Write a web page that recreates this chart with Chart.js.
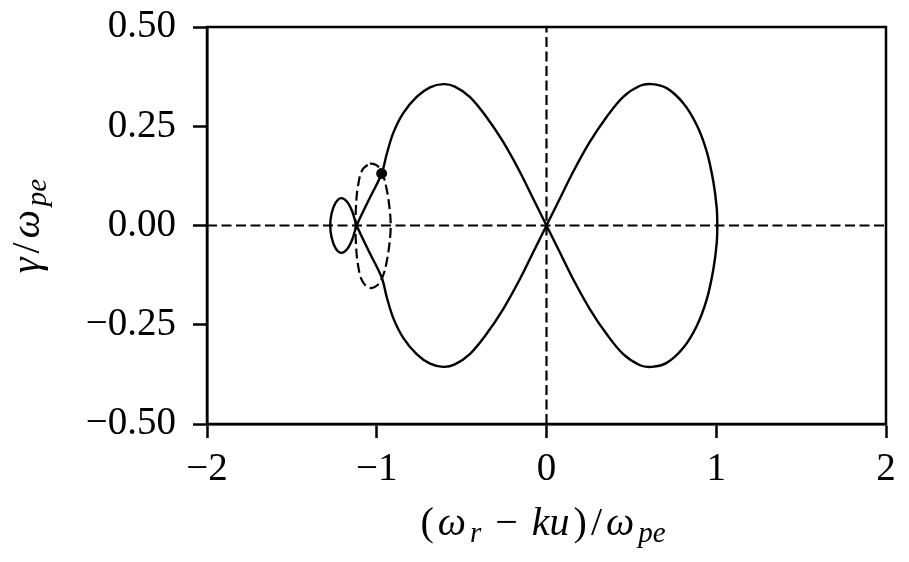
<!DOCTYPE html>
<html>
<head>
<meta charset="utf-8">
<script src="https://cdn.jsdelivr.net/npm/chart.js@4.4.1/dist/chart.umd.min.js"></script>
<style>
  html, body { margin: 0; padding: 0; background: #fff; }
</style>
</head>
<body>
<canvas id="chart" width="909" height="562"></canvas>
<script>
// solid curve, traced as one closed path:
// origin -> upper left lobe -> small loop -> lower left lobe -> origin -> right lobe -> origin
let curveX = [
  0, -0.079, -0.158, -0.256, -0.355, -0.452, -0.54, -0.608, -0.686, -0.765, -0.844, -0.902, -0.94, -0.971, -1.045,
  -1.118, -1.145, -1.175, -1.21, -1.243, -1.266, -1.274, -1.266, -1.243, -1.21, -1.175, -1.145, -1.118,
  -1.045, -0.971, -0.94, -0.902, -0.844, -0.765, -0.686, -0.608, -0.54, -0.452, -0.355, -0.256, -0.158, -0.079, 0,
  0.079, 0.158, 0.256, 0.355, 0.452, 0.551, 0.62, 0.708, 0.806, 0.885, 0.944, 0.983, 1.003, 1.006,
  1.003, 0.983, 0.944, 0.885, 0.806, 0.708, 0.62, 0.551, 0.452, 0.355, 0.256, 0.158, 0.079, 0
];
let curveY = [
  0, 0.068, 0.136, 0.211, 0.274, 0.324, 0.35, 0.356, 0.348, 0.324, 0.283, 0.234, 0.182, 0.131, 0.066,
  0, -0.036, -0.06, -0.069, -0.057, -0.03, 0, 0.03, 0.057, 0.069, 0.06, 0.036, 0,
  -0.066, -0.131, -0.182, -0.234, -0.283, -0.324, -0.348, -0.356, -0.35, -0.324, -0.274, -0.211, -0.136, -0.068, 0,
  0.068, 0.136, 0.211, 0.274, 0.324, 0.352, 0.356, 0.346, 0.308, 0.253, 0.186, 0.11, 0.043, 0,
  -0.043, -0.11, -0.186, -0.253, -0.308, -0.346, -0.356, -0.352, -0.324, -0.274, -0.211, -0.136, -0.068, 0
];

// dashed closed contour around the crossing
let contourX = [
  -1.04, -0.995, -0.962, -0.941, -0.925, -0.918, -0.925, -0.941, -0.962, -0.995,
  -1.04, -1.085, -1.112, -1.122, -1.125, -1.122, -1.112, -1.085, -1.04
];
let contourY = [
  0.157, 0.15, 0.125, 0.09, 0.045, 0, -0.045, -0.09, -0.125, -0.15,
  -0.157, -0.14, -0.095, -0.05, 0, 0.05, 0.095, 0.14, 0.157
];

// marked point
let markX = [-0.971];
let markY = [0.131];

// zero reference lines
let zeroLineX = [-2, 2];
let zeroLineY = [-0.5, 0.5];

let xTicks = [-2, -1, 0, 1, 2];
let yTicks = [-0.5, -0.25, 0, 0.25, 0.5];

let toPoints = (xs, ys) => xs.map((x, i) => ({ x: x, y: ys[i] }));

let serif = "'Liberation Serif', 'DejaVu Serif', serif";

// axis titles: [text, kind] with n = upright, i = italic, s = italic subscript
let xTitle = [['(', 'n'], ['\u03c9', 'i'], ['r', 's'], [' \u2212 ', 'n'], ['ku', 'i'], [')', 'n'], ['/', 'n'], ['\u03c9', 'i'], ['pe', 's']];
let yTitle = [['\u03b3', 'i'], ['/', 'n'], ['\u03c9', 'i'], ['pe', 's']];

function runFont(kind, size) {
  if (kind === 'n') return size + 'px ' + serif;
  if (kind === 'i') return 'italic ' + size + 'px ' + serif;
  return 'italic ' + Math.round(size * 0.72) + 'px ' + serif;
}

// draws a mixed-style label centred on cx, loosened a little towards the given width
function drawRuns(ctx, runs, cx, baseline, size, width) {
  let total = 0;
  runs.forEach(r => { ctx.font = runFont(r[1], size); total += ctx.measureText(r[0]).width; });
  let gap = Math.min(4, Math.max(0, (width - total) / (runs.length - 1)));
  let x = cx - (total + gap * (runs.length - 1)) / 2;
  ctx.fillStyle = '#000';
  ctx.textAlign = 'left';
  ctx.textBaseline = 'alphabetic';
  runs.forEach(r => {
    ctx.font = runFont(r[1], size);
    let dy = r[1] === 's' ? size * 0.17 : 0;
    ctx.fillText(r[0], x, baseline + dy);
    x += ctx.measureText(r[0]).width + gap;
  });
}

let frameAndTitles = {
  id: 'frameAndTitles',
  afterDraw(chart) {
    let ctx = chart.ctx;
    let a = chart.chartArea;
    ctx.save();
    ctx.strokeStyle = '#000';
    ctx.lineWidth = 2.5;
    ctx.strokeRect(a.left, a.top, a.right - a.left, a.bottom - a.top);
    drawRuns(ctx, xTitle, 543, 535, 40, 250);
    ctx.translate(39, 226);
    ctx.rotate(-Math.PI / 2);
    drawRuns(ctx, yTitle, 0, 0, 40, 102);
    ctx.restore();
  }
};

let fmt = v => (v < 0 ? '\u2212' : '') + Math.abs(v);

new Chart(document.getElementById('chart'), {
  type: 'scatter',
  data: {
    datasets: [
      {
        label: 'zero x',
        data: toPoints(zeroLineX, [0, 0]),
        showLine: true, borderColor: '#000', borderWidth: 2.2, borderDash: [10, 4.5],
        pointRadius: 0
      },
      {
        label: 'zero y',
        data: toPoints([0, 0], zeroLineY),
        showLine: true, borderColor: '#000', borderWidth: 2.2, borderDash: [10, 4.5],
        pointRadius: 0
      },
      {
        label: 'curve',
        data: toPoints(curveX, curveY),
        showLine: true, borderColor: '#000', borderWidth: 2.4, tension: 0.35,
        pointRadius: 0
      },
      {
        label: 'contour',
        data: toPoints(contourX, contourY),
        showLine: true, borderColor: '#000', borderWidth: 2.2, borderDash: [10, 4.5], tension: 0.4,
        pointRadius: 0
      },
      {
        label: 'mark',
        data: toPoints(markX, markY),
        backgroundColor: '#000', borderColor: '#000', pointRadius: 5
      }
    ]
  },
  options: {
    responsive: false,
    animation: false,
    layout: { padding: { top: 27, right: 23, left: 0, bottom: 0 } },
    plugins: { legend: { display: false }, tooltip: { enabled: false } },
    scales: {
      x: {
        type: 'linear', min: -2, max: 2,
        afterFit: s => { s.height = 138; s.paddingLeft = 0; s.paddingRight = 0; },
        afterBuildTicks: s => { s.ticks = xTicks.map(v => ({ value: v })); },
        ticks: { color: '#000', font: { family: serif, size: 39 }, padding: 8, maxRotation: 0,
                 callback: v => fmt(v) },
        grid: { drawOnChartArea: false, tickLength: 14, tickWidth: 2.5, tickColor: '#000' },
        border: { color: '#000', width: 2.5 }
      },
      y: {
        type: 'linear', min: -0.5, max: 0.5,
        afterFit: s => { s.width = 207; s.paddingTop = 0; s.paddingBottom = 0; },
        afterBuildTicks: s => { s.ticks = yTicks.map(v => ({ value: v })); },
        ticks: { color: '#000', font: { family: serif, size: 39 }, padding: 17,
                 callback: v => (v < 0 ? '\u2212' : '') + Math.abs(v).toFixed(2) },
        grid: { drawOnChartArea: false, tickLength: 14, tickWidth: 2.5, tickColor: '#000' },
        border: { color: '#000', width: 2.5 }
      }
    }
  },
  plugins: [frameAndTitles]
});
</script>
</body>
</html>
